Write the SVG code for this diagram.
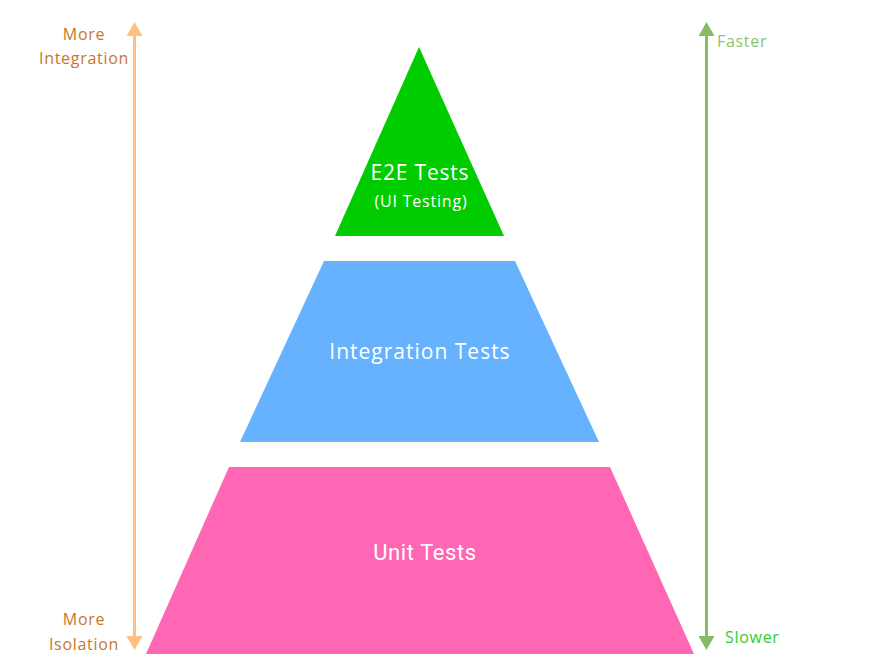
<svg xmlns="http://www.w3.org/2000/svg" width="869" height="670" viewBox="0 0 869 670">
  <defs>
    <marker id="headOrange" viewBox="0 0 14 16" refX="2" refY="8" markerWidth="14" markerHeight="16" markerUnits="userSpaceOnUse" orient="auto-start-reverse">
      <path d="M0,0 L14,8 L0,16 Z" fill="#ffbf80"/>
    </marker>
    <marker id="headGreen" viewBox="0 0 14 16" refX="2" refY="8" markerWidth="14" markerHeight="16" markerUnits="userSpaceOnUse" orient="auto-start-reverse">
      <path d="M0,0 L14,8 L0,16 Z" fill="#88bb66"/>
    </marker>
    <style>
      .label { font-family: "Open Sans", "Noto Sans", sans-serif; fill: #ffffff; text-anchor: middle; }
      .side { font-family: "Open Sans", "Noto Sans", sans-serif; font-size: 16px; letter-spacing: 0.7px; }
      .orange { fill: #c8762d; text-anchor: middle; }
    </style>
  </defs>
  <rect width="869" height="670" fill="#ffffff"/>

  <g id="connectors">
    <!-- integration / isolation scale -->
    <path d="M134.5,34 V638" stroke="#ffbf80" stroke-width="3" fill="none" marker-start="url(#headOrange)" marker-end="url(#headOrange)"/>
    <!-- speed scale -->
    <path d="M706.5,34 V638" stroke="#88bb66" stroke-width="3" fill="none" marker-start="url(#headGreen)" marker-end="url(#headGreen)"/>
  </g>

  <g id="e2e-tests">
    <polygon points="419,47 504,236 335,236" fill="#00cc00"/>
    <text class="label" x="420" y="180" font-size="21" letter-spacing="0.8">E2E Tests</text>
    <text class="label" x="421" y="207" font-size="16" letter-spacing="0.8">(UI Testing)</text>
  </g>

  <g id="integration-tests">
    <polygon points="324,261 515,261 599,442 240,442" fill="#66b2ff"/>
    <text class="label" x="420" y="359" font-size="21" letter-spacing="1">Integration Tests</text>
  </g>

  <g id="unit-tests">
    <polygon points="229,467 610,467 694,654 146,654" fill="#ff66b3"/>
    <text class="label" x="425" y="560" font-size="22" letter-spacing="0.6" style="font-family: Roboto, 'Open Sans', sans-serif;">Unit Tests</text>
  </g>

  <g id="scale-labels">
    <text class="side orange" x="84" y="40">More</text>
    <text class="side orange" x="84" y="64">Integration</text>
    <text class="side orange" x="84" y="625">More</text>
    <text class="side orange" x="84" y="650">Isolation</text>
    <text class="side" x="717" y="47" fill="#8dc26f">Faster</text>
    <text class="side" x="725" y="643" fill="#33cc33">Slower</text>
  </g>
</svg>
